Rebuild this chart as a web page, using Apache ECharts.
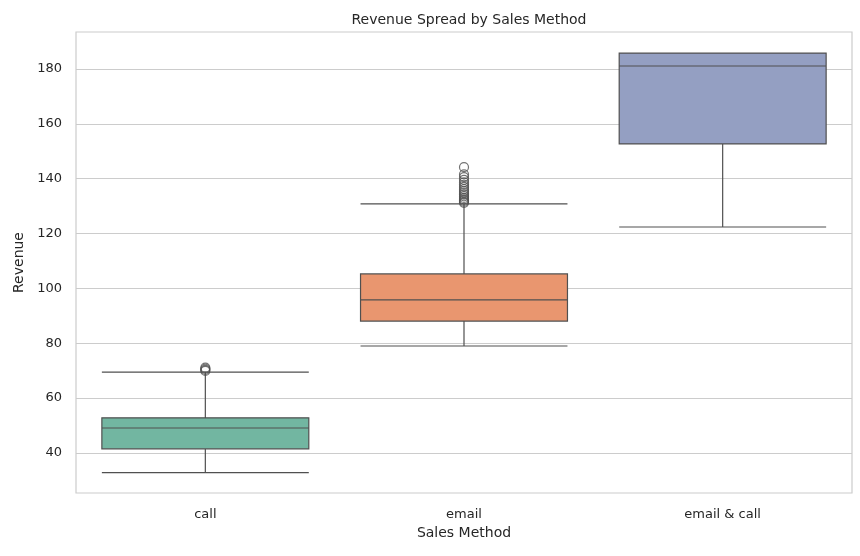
<!DOCTYPE html>
<html><head><meta charset="utf-8">
<script src="https://cdn.jsdelivr.net/npm/echarts@6/dist/echarts.min.js"></script>
<style>html,body{margin:0;background:#fff}#c{width:860px;height:556px}</style>
</head><body><div id="c"></div>
<script>
var categories = ['call', 'email', 'email & call'];
// [low whisker, Q1, median, Q3, high whisker]
var boxStats = [
	[32.8, 41.5, 49.1, 52.8, 69.5],
	[79.0, 88.1, 95.8, 105.3, 130.8],
	[122.4, 152.7, 181.1, 185.8, 185.8]
];
var callOutliers = [69.9, 70.3, 70.7, 71.1];
var emailOutliers = [131.2, 131.6, 132.0, 132.5, 133.0, 133.6, 134.2, 134.8, 135.5, 136.2, 137.0, 137.8, 138.7, 139.6, 140.6, 141.6, 144.2];
var boxColors = ['#72b6a1', '#e9966f', '#949fc2'];
var yTicks = [40, 60, 80, 100, 120, 140, 160, 180];

var outlierData = [];
callOutliers.forEach(function(v) { outlierData.push([0, v]); });
emailOutliers.forEach(function(v) { outlierData.push([1, v]); });

var chart = echarts.init(document.getElementById('c'));
chart.setOption({
	animation: false,
	textStyle: { fontFamily: 'DejaVu Sans', color: '#262626' },
	title: {
		text: 'Revenue Spread by Sales Method', left: 464, top: 8, textAlign: 'center',
		textStyle: { fontSize: 14, fontWeight: 'normal', color: '#262626' }
	},
	grid: { left: 76, right: 8, top: 32, bottom: 63, show: true, borderColor: '#cccccc', borderWidth: 1.2 },
	xAxis: {
		type: 'category', data: categories,
		name: 'Sales Method', nameLocation: 'middle', nameGap: 30,
		nameTextStyle: { fontSize: 14, color: '#262626' },
		axisLine: { show: false }, axisTick: { show: false },
		axisLabel: { fontSize: 13, color: '#262626', margin: 15 }
	},
	yAxis: {
		type: 'value', min: 25.4, max: 193.5,
		name: 'Revenue', nameLocation: 'middle', nameGap: 48,
		nameTextStyle: { fontSize: 14, color: '#262626' },
		axisLine: { show: false },
		axisTick: { show: false, customValues: yTicks },
		axisLabel: { fontSize: 13, color: '#262626', margin: 14, customValues: yTicks },
		splitLine: { show: true, lineStyle: { color: '#cccccc', width: 1.2 } }
	},
	series: [{
		type: 'boxplot',
		boxWidth: ['80%', '80%'],
		data: boxStats.map(function(s, i) {
			return { value: s, itemStyle: { color: boxColors[i], borderColor: '#505050', borderWidth: 1.2 } };
		})
	}, {
		type: 'scatter',
		data: outlierData,
		symbol: 'circle', symbolSize: 9,
		itemStyle: { color: 'rgba(0,0,0,0)', borderColor: '#505050', borderWidth: 1.2 }
	}]
});
</script></body></html>
